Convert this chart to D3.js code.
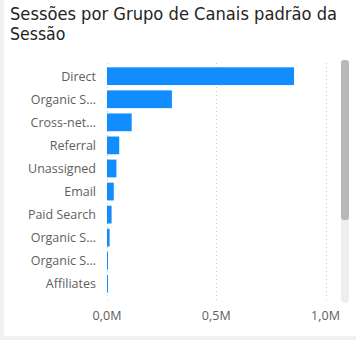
<!DOCTYPE html>
<html><head><meta charset="utf-8">
<script src="https://cdn.jsdelivr.net/npm/d3@7"></script>
<style>
html,body{margin:0;padding:0;background:#f0f0f0;}
svg{display:block;}
</style></head>
<body>
<svg id="c" width="356" height="340"></svg>
<script>
const categories = ["Direct","Organic S...","Cross-net...","Referral","Unassigned","Email","Paid Search","Organic S...","Organic S...","Affiliates"];
const values = [856000, 297000, 113000, 56000, 43000, 31000, 21000, 12000, 4000, 3000];
const tickValues = [0, 500000, 1000000];
const tickLabels = ["0,0M","0,5M","1,0M"];
const titleLines = ["Sessões por Grupo de Canais padrão da","Sessão"];

const svg = d3.select("#c");
svg.append("rect").attr("x",4).attr("y",0).attr("width",352).attr("height",336).attr("fill","#fff");

svg.selectAll("text.title").data(titleLines).enter().append("text")
  .attr("class","title").attr("x",10).attr("y",(d,i)=>19.5+i*20.5)
  .attr("font-family","'DejaVu Sans Condensed','DejaVu Sans',sans-serif").attr("font-size",17.5)
  .attr("fill","#252423").attr("textLength",(d,i)=>i===0?327:null)
  .attr("lengthAdjust","spacingAndGlyphs").text(d=>d);

const x = d3.scaleLinear().domain([0,1000000]).range([107,325.5]);
const y = d3.scaleBand().domain(d3.range(categories.length)).range([65,295]).paddingInner(0.23).paddingOuter(0.1);

// gridlines
svg.append("g").selectAll("line").data(tickValues).enter().append("line")
  .attr("x1",d=>Math.round(x(d))+0.5).attr("x2",d=>Math.round(x(d))+0.5)
  .attr("y1",63).attr("y2",303)
  .attr("stroke","#c8c8c8").attr("stroke-width",1).attr("stroke-dasharray","1,3");

svg.append("g").selectAll("rect").data(values).enter().append("rect")
  .attr("x",x(0)).attr("y",(d,i)=>y(i)).attr("height",y.bandwidth())
  .attr("width",d=>Math.max(1,x(d)-x(0))).attr("fill","#118DFF");

svg.append("g").selectAll("text").data(categories).enter().append("text")
  .attr("x",96).attr("y",(d,i)=>y(i)+y.bandwidth()/2).attr("dy","0.35em")
  .attr("text-anchor","end").attr("font-family","'Open Sans',sans-serif").attr("font-size",12.5)
  .attr("fill","#605E5C").text(d=>d);

svg.append("g").selectAll("text").data(tickValues).enter().append("text")
  .attr("x",d=>x(d)).attr("y",320).attr("text-anchor","middle")
  .attr("font-family","'Open Sans',sans-serif").attr("font-size",12.5)
  .attr("fill","#605E5C").text((d,i)=>tickLabels[i]);

// scrollbar
svg.append("rect").attr("x",341).attr("y",60).attr("width",8).attr("height",243).attr("rx",4).attr("fill","#eeeeee");
svg.append("rect").attr("x",341).attr("y",60).attr("width",8).attr("height",160).attr("rx",3).attr("fill","#b8b8b8");
</script>
</body></html>
